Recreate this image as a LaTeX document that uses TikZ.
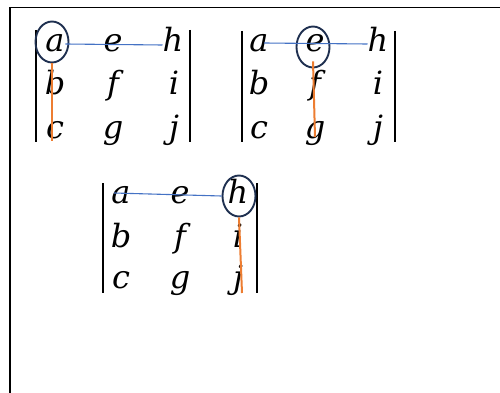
\documentclass[tikz,border=0pt]{standalone}
\usepackage{fontspec}
\newfontfamily\entryfont{DejaVu Serif}
\usetikzlibrary{shapes.geometric,calc}
\definecolor{ringnavy}{HTML}{1F3050}
\definecolor{rowblue}{HTML}{4472C4}
\definecolor{colorange}{HTML}{ED7D31}
\begin{document}
\begin{tikzpicture}[x=1pt,y=-1pt,
  entry/.style={anchor=base,inner sep=0pt,font=\entryfont\itshape\fontsize{32}{38}\selectfont},
  ring/.style={ellipse,draw=ringnavy,line width=1.9pt,minimum width=33pt,minimum height=41pt,inner sep=0pt},
  rowline/.style={draw=rowblue,line width=1.1pt},
  colline/.style={draw=colorange,line width=2pt},
  bar/.style={line width=2.6pt,line cap=butt}]
\useasboundingbox (0,0) rectangle (500,393);
% frame: top and left edges
\draw[line width=1.6pt] (10,393) -- (10,7.5) -- (500,7.5);

% first determinant
\foreach \n/\x/\y in {a/55/52,e/113/52,h/173/52,b/55/95,f/113/95,i/174/95,c/55/138,g/113/138,j/174/138}
  \node[entry] (p\n) at (\x,\y) {\n};
\draw[bar] (36,30) -- (36,142);
\draw[bar] (190,30) -- (190,142);
\node[ring] (r1) at (52,42) {};
\draw[rowline] ($(r1.east)+(-4,2)$) -- ($(ph.base west)+(0,-7)$);
\draw[colline] (r1.south) -- ($(pc.base)+(-3,3)$);

% second determinant
\foreach \n/\x/\y in {a/259/52,e/315/52,h/378/52,b/259/95,f/315/95,i/378/95,c/259/138,g/315/138,j/378/138}
  \node[entry] (q\n) at (\x,\y) {\n};
\draw[bar] (242,31) -- (242,142);
\draw[bar] (395,31) -- (395,142);
\node[ring] (r2) at (313,47) {};
\draw[rowline] ($(qa.base)+(5,-9)$) -- ($(qh.base west)+(0,-8)$);
\draw[colline] ($(r2.south)+(0,-7)$) -- ($(qg.base)+(0,-1)$);

% third determinant
\foreach \n/\x/\y in {a/121/203,e/180/203,h/238/203,b/121/247,f/180/247,i/238/247,c/121/288,g/180/288,j/238/288}
  \node[entry] (s\n) at (\x,\y) {\n};
\draw[bar] (103,183) -- (103,293);
\draw[bar] (257,183) -- (257,293);
\node[ring] (r3) at (239,196) {};
\draw[rowline] ($(sa.base)+(-7,-10)$) -- (r3.west);
\draw[colline] (r3.south) -- ($(sj.base)+(4,5)$);
\end{tikzpicture}
\end{document}
